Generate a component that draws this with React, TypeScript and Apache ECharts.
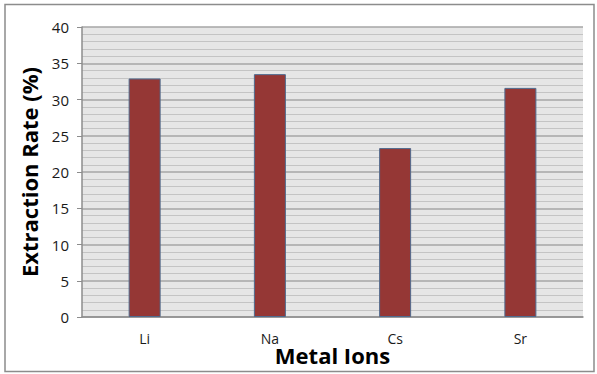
import React, { useEffect, useRef } from "react";
import * as echarts from "echarts";

const categories = ["Li", "Na", "Cs", "Sr"];
const extractionRates = [32.9, 33.5, 23.3, 31.6];
const yTicks = { min: 0, max: 40, interval: 5 };

export default function App() {
  const ref = useRef<HTMLDivElement>(null);
  useEffect(() => {
    if (!ref.current) return;
    const chart = echarts.init(ref.current, undefined, { renderer: "svg" });
    const font = "'Open Sans', 'Liberation Sans', sans-serif";
    chart.setOption({
      animation: false,
      backgroundColor: "#ffffff",
      graphic: [
        {
          type: "rect",
          shape: { x: 5, y: 4.5, width: 589, height: 367 },
          style: { fill: "none", stroke: "#8c8c8c", lineWidth: 1.5 },
          silent: true,
          z: -1,
        },
      ],
      grid: {
        left: 82,
        top: 27,
        width: 501,
        height: 290,
        show: true,
        backgroundColor: "#e6e6e6",
        borderWidth: 0,
        outerBoundsMode: "none",
        containLabel: false,
      },
      xAxis: {
        type: "category",
        data: categories,
        axisLine: { show: true, lineStyle: { color: "#8c8c8c", width: 1.5 } },
        axisTick: { show: false },
        axisLabel: { color: "#1a1a1a", fontSize: 14, fontFamily: font, margin: 14 },
        name: "Metal Ions",
        nameLocation: "middle",
        nameGap: 38,
        nameMoveOverlap: false,
        nameTextStyle: {
          color: "#000",
          fontSize: 22,
          fontWeight: "bold",
          fontFamily: font,
          verticalAlign: "middle",
        },
      },
      yAxis: {
        type: "value",
        min: yTicks.min,
        max: yTicks.max,
        interval: yTicks.interval,
        axisLine: { show: true, lineStyle: { color: "#8c8c8c", width: 1.5 } },
        axisTick: { show: true, length: 5, lineStyle: { color: "#8c8c8c" } },
        axisLabel: { color: "#1a1a1a", fontSize: 15, fontFamily: font, margin: 13 },
        splitLine: { show: true, lineStyle: { color: "#a6a6a6", width: 1.5 } },
        minorTick: { show: false, splitNumber: 5 },
        minorSplitLine: { show: true, lineStyle: { color: "#c4c4c4", width: 1.2 } },
        name: "Extraction Rate (%)",
        nameLocation: "middle",
        nameGap: 53,
        nameMoveOverlap: false,
        nameTextStyle: {
          color: "#000",
          fontSize: 22,
          fontWeight: "bold",
          fontFamily: font,
          verticalAlign: "middle",
        },
      },
      series: [
        {
          type: "bar",
          data: extractionRates,
          barWidth: 32,
          itemStyle: { color: "#953735", borderColor: "#4f6b8f", borderWidth: 1 },
        },
      ],
    });
    return () => chart.dispose();
  }, []);
  return (
    <div
      ref={ref}
      style={{ position: "absolute", left: 0, top: 0, width: 597, height: 374 }}
    />
  );
}
